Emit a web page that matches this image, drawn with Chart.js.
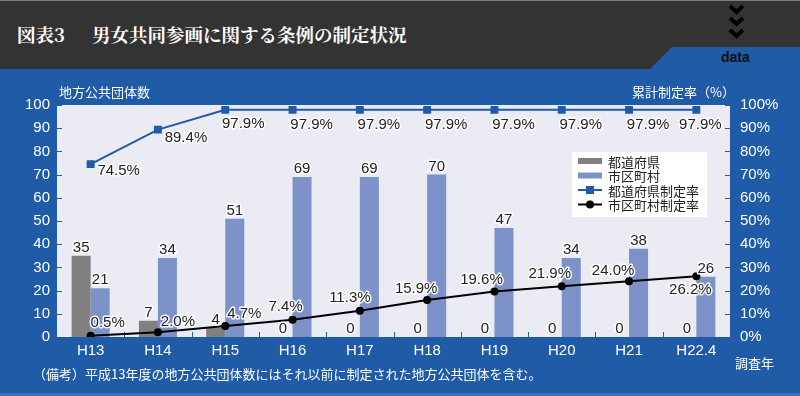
<!DOCTYPE html>
<html><head><meta charset="utf-8">
<script src="https://cdn.jsdelivr.net/npm/chart.js@4/dist/chart.umd.min.js"></script>
<style>
html,body{margin:0;padding:0;}
body{width:800px;height:396px;overflow:hidden;position:relative;background:#1f5ba7;font-family:"Noto Sans CJK JP",sans-serif;}
#hdr{position:absolute;left:0;top:0;width:800px;height:69px;background:#333333;border-top:1px solid #7a7a7a;box-sizing:border-box;}
#deco{position:absolute;left:0;top:0;}
.t{position:absolute;white-space:nowrap;color:#fff;line-height:1;}
#t1{left:17px;top:21px;font:bold 18.5px "Noto Serif CJK JP","Noto Sans CJK JP",serif;}
#t2{left:92px;top:21px;font:bold 18.5px "Noto Serif CJK JP","Noto Sans CJK JP",serif;}
#data{position:absolute;left:721px;top:50px;font:bold 14px "Liberation Sans",Arial,sans-serif;color:#111;line-height:1;}
.ax{font-size:13px;}
#c{position:absolute;left:0;top:0;}
#bot{position:absolute;left:0;top:393px;width:800px;height:3px;background:#3a74bf;}
</style>
</head><body>
<div id="hdr"></div>
<svg id="deco" width="800" height="69">
  <polygon points="672,47 800,47 800,69 650,69" fill="#1f5ba7"/>
  <g fill="none" stroke="#000" stroke-width="4">
    <polyline points="730,6 736.5,12 743,6"/>
    <polyline points="730,18 736.5,24 743,18"/>
    <polyline points="730,30 736.5,36 743,30"/>
  </g>
</svg>
<div class="t" id="t1">図表3</div>
<div class="t" id="t2">男女共同参画に関する条例の制定状況</div>
<div id="data">data</div>
<div id="bot"></div>
<canvas id="c" width="800" height="396"></canvas>
<div class="t ax" style="left:59px;top:84.5px;">地方公共団体数</div>
<div class="t ax" style="left:632px;top:84.5px;">累計制定率（%）</div>
<div class="t ax" style="left:735px;top:355.5px;">調査年</div>
<div class="t ax" style="left:33px;top:366.5px;">（備考）平成13年度の地方公共団体数にはそれ以前に制定された地方公共団体を含む。</div>
<script>
// ---- data ----
const categories = ['H13','H14','H15','H16','H17','H18','H19','H20','H21','H22.4'];
const prefCounts = [35, 7, 4, 0, 0, 0, 0, 0, 0, 0];
const muniCounts = [21, 34, 51, 69, 69, 70, 47, 34, 38, 26];
const prefRates = [74.5, 89.4, 97.9, 97.9, 97.9, 97.9, 97.9, 97.9, 97.9, 97.9];
const muniRates = [0.5, 2.0, 4.7, 7.4, 11.3, 15.9, 19.6, 21.9, 24.0, 26.2];
const seriesNames = ['都道府県', '市区町村', '都道府県制定率', '市区町村制定率'];

// ---- styling (label placement offsets, not data) ----
const prefRateLabelOffset = [[28,7],[28,8],[18,14],[19,15],[19,15],[19,15],[19,15],[19,15],[19,15],[4,15]];
const muniRateLabelOffset = [[17,-13],[20,-11],[19,-12],[-7,-13],[-10,-13],[-11,-11],[-13,-12],[-12,-12],[-16,-10],[-6,14]];
const C = {plot:'#ebebf4', blue:'#1f5ba7', grey:'#808080', lightBlue:'#7d92c9', black:'#000', text:'#222'};
const NUM_FONT = '15px "Liberation Sans", Arial, sans-serif';

function halo(ctx, txt, x, y){
  ctx.strokeText(txt, x, y);
  ctx.fillText(txt, x, y);
}

const plotBg = {
  id:'plotBg',
  beforeDatasetsDraw(chart){
    const {ctx, chartArea:a, scales} = chart;
    ctx.save();
    ctx.fillStyle = C.plot;
    ctx.fillRect(a.left, a.top, a.right-a.left, a.bottom-a.top);
    ctx.strokeStyle = C.blue; ctx.lineWidth = 1;
    ctx.beginPath();
    scales.y.ticks.forEach((t,i)=>{
      const py = Math.round(scales.y.getPixelForTick(i))+0.5;
      ctx.moveTo(a.left, py); ctx.lineTo(a.left+5, py);
    });
    scales.y1.ticks.forEach((t,i)=>{
      const py = Math.round(scales.y1.getPixelForTick(i))+0.5;
      ctx.moveTo(a.right, py); ctx.lineTo(a.right-5, py);
    });
    for (let i=1;i<categories.length;i++){
      const px = Math.round((scales.x.getPixelForTick(i-1)+scales.x.getPixelForTick(i))/2)+0.5;
      ctx.moveTo(px, a.bottom); ctx.lineTo(px, a.bottom-5);
    }
    ctx.stroke();
    ctx.restore();
  }
};

const labelsPlugin = {
  id:'valueLabels',
  afterDatasetsDraw(chart){
    const ctx = chart.ctx;
    ctx.save();
    ctx.font = NUM_FONT;
    ctx.textAlign = 'center';
    ctx.textBaseline = 'middle';
    ctx.lineWidth = 3;
    ctx.lineJoin = 'round';
    ctx.strokeStyle = 'rgba(255,255,255,0.95)';
    ctx.fillStyle = C.text;
    [0,1].forEach(di=>{
      const meta = chart.getDatasetMeta(di);
      const vals = chart.data.datasets[di].data;
      meta.data.forEach((el,i)=>{
        halo(ctx, String(vals[i]), el.x, el.y-8);
      });
    });
    const fmt = v => v.toFixed(1)+'%';
    const m2 = chart.getDatasetMeta(2);
    m2.data.forEach((el,i)=>{
      const o = prefRateLabelOffset[i];
      halo(ctx, fmt(chart.data.datasets[2].data[i]), el.x+o[0], el.y+o[1]);
    });
    const m3 = chart.getDatasetMeta(3);
    m3.data.forEach((el,i)=>{
      const o = muniRateLabelOffset[i];
      halo(ctx, fmt(chart.data.datasets[3].data[i]), el.x+o[0], el.y+o[1]);
    });
    ctx.restore();
  }
};

const legendPlugin = {
  id:'boxLegend',
  afterDraw(chart){
    const ctx = chart.ctx;
    const a = chart.chartArea;
    const bx = a.right-158, by = 152, bw = 135, bh = 65;
    ctx.save();
    ctx.fillStyle = '#fff';
    ctx.fillRect(bx, by, bw, bh);
    const rowY = [161, 175.5, 190, 204.5];
    chart.data.datasets.forEach((ds,i)=>{
      const cy = rowY[i];
      const sx = bx+6, sw = 24;
      if ((ds.type||'bar') === 'bar'){
        ctx.fillStyle = ds.backgroundColor;
        ctx.fillRect(sx, cy-3, sw, 6);
      } else {
        ctx.strokeStyle = ds.borderColor; ctx.lineWidth = 2;
        ctx.beginPath(); ctx.moveTo(sx, cy); ctx.lineTo(sx+sw, cy); ctx.stroke();
        ctx.fillStyle = ds.backgroundColor;
        if (ds.pointStyle === 'rect'){ ctx.fillRect(sx+sw/2-4, cy-4, 8, 8); }
        else { ctx.beginPath(); ctx.arc(sx+sw/2, cy, 4, 0, Math.PI*2); ctx.fill(); }
      }
      ctx.fillStyle = C.text;
      ctx.font = '13px "Noto Sans CJK JP", sans-serif';
      ctx.textBaseline = 'middle';
      ctx.textAlign = 'left';
      ctx.fillText(ds.label, bx+36, cy+1);
    });
    ctx.restore();
  }
};

const tickFont = {family:'"Liberation Sans", Arial, sans-serif', size:15};

new Chart(document.getElementById('c'), {
  type:'bar',
  data:{
    labels: categories,
    datasets:[
      {label:seriesNames[0], data:prefCounts, backgroundColor:C.grey, yAxisID:'y', order:1, categoryPercentage:0.565, barPercentage:1},
      {label:seriesNames[1], data:muniCounts, backgroundColor:C.lightBlue, yAxisID:'y', order:1, categoryPercentage:0.565, barPercentage:1},
      {type:'line', label:seriesNames[2], data:prefRates, yAxisID:'y1', borderColor:C.blue, backgroundColor:C.blue, borderWidth:2, pointStyle:'rect', pointRadius:5.6, pointBorderWidth:0, tension:0, order:0},
      {type:'line', label:seriesNames[3], data:muniRates, yAxisID:'y1', borderColor:C.black, backgroundColor:C.black, borderWidth:2, pointStyle:'circle', pointRadius:4, pointBorderWidth:0, tension:0, order:0}
    ]
  },
  options:{
    responsive:false, animation:false, devicePixelRatio:1,
    layout:{padding:{top:105, left:0, right:0, bottom:0}},
    plugins:{legend:{display:false}, tooltip:{enabled:false}},
    scales:{
      x:{
        grid:{display:false, drawTicks:false}, border:{display:false},
        ticks:{color:'#fff', font:tickFont, padding:5, maxRotation:0, autoSkip:false},
        afterFit(s){ s.height = 59; }
      },
      y:{
        position:'left', min:0, max:100,
        grid:{display:false, drawTicks:false}, border:{display:false},
        ticks:{stepSize:10, color:'#fff', font:tickFont, padding:7},
        afterFit(s){ s.width = 57; }
      },
      y1:{
        position:'right', min:0, max:100,
        grid:{display:false, drawTicks:false}, border:{display:false},
        ticks:{stepSize:10, color:'#fff', font:tickFont, padding:10, callback:v=>v+'%'},
        afterFit(s){ s.width = 70; }
      }
    }
  },
  plugins:[plotBg, labelsPlugin, legendPlugin]
});
</script>
</body></html>
